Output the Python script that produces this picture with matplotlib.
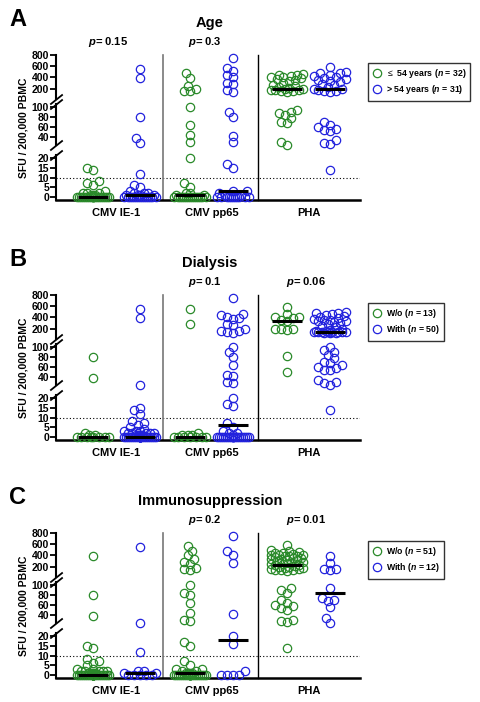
import numpy as np
import matplotlib
matplotlib.use("Agg")
import matplotlib.pyplot as plt

# ---------------- data ----------------
groups = ["CMV IE-1", "CMV pp65", "PHA"]
titles = ["Age", "Dialysis", "Immunosuppression"]
letters = ["A", "B", "C"]
legend_a = [r"$\leq$ 54 years ($\mathbfit{n}$ = 32)", r"> 54 years ($\mathbfit{n}$ = 31)"]
legend_b = [r"W/o ($\mathbfit{n}$ = 13)", r"With ($\mathbfit{n}$ = 50)"]
legend_c = [r"W/o ($\mathbfit{n}$ = 51)", r"With ($\mathbfit{n}$ = 12)"]
pvals_a = {0: "0.15", 1: "0.3"}
pvals_b = {1: "0.1", 2: "0.06"}
pvals_c = {1: "0.2", 2: "0.01"}

a_ie1_g = [15,14,8,7,6,3,2,2,2,1,1,1] + [0]*20
a_ie1_b = [550,380,80,38,28,12,6,5,3,2,2,2,1,1,1,1] + [0]*15
a_pp65_g = [470,380,250,200,160,150,100,65,45,30,20,7,5,2,2,1,1] + [0]*15
a_pp65_b = [750,560,520,450,400,300,280,170,140,90,80,42,30,17,15,3,3,2,1,1] + [0]*11
a_pha_g = [460,450,440,420,400,400,380,370,360,340,300,260,250,220,210,200,190,180,180,170,
           160,150,140,95,90,88,85,78,70,68,30,25]
a_pha_b = [580,500,480,470,450,420,400,380,370,360,340,320,280,260,220,200,190,180,160,150,
           140,70,65,60,57,55,52,35,28,27,14]

b_ie1_g = [80,38,2,1,1] + [0]*8
b_ie1_b = [550,380,25,15,14,12,8,7,6,5,4,3,3,3,2,2,2,2,2,1,1,1,1] + [0]*27
b_pp65_g = [550,280,2,1,1,1] + [0]*7
b_pp65_b = [750,460,450,400,380,370,280,260,200,160,150,140,120,100,90,80,65,45,42,30,
            28,20,17,16,7,5,3,2,2,1] + [0]*20
b_pha_g = [580,460,400,400,380,350,330,200,200,190,180,82,50]
b_pha_b = [500,480,470,460,450,420,400,380,370,360,350,340,330,320,300,280,250,220,200,180,
           160,150,140,140,140,140,140,130,130,130,120,120,120,100,95,90,85,78,70,68,
           65,60,58,55,55,35,30,28,25,14]

c_ie1_g = [380,80,38,15,14,8,7,6,5,3,3,2,2,2,2,2,1,1,1,1] + [0]*31
c_ie1_b = [550,25,12,2,2,1,1,0,0,0,0,0]
c_pp65_g = [560,480,400,340,280,250,170,150,140,100,85,80,65,45,30,28,17,15,7,5,3,3,2,2,
            1,1,1,1] + [0]*23
c_pp65_b = [750,470,400,270,42,20,16,2,0,0,0,0]
c_pha_g = [580,500,480,460,450,440,420,410,400,400,390,380,380,370,360,350,340,330,320,310,
           300,280,260,250,240,230,220,210,200,190,180,170,160,150,140,140,130,120,95,90,
           85,70,65,60,58,55,50,30,28,27,14]
c_pha_b = [380,260,160,150,140,95,75,70,68,57,34,24]

panels = [
    ([(a_ie1_g, a_ie1_b), (a_pp65_g, a_pp65_b), (a_pha_g, a_pha_b)], legend_a, pvals_a),
    ([(b_ie1_g, b_ie1_b), (b_pp65_g, b_pp65_b), (b_pha_g, b_pha_b)], legend_b, pvals_b),
    ([(c_ie1_g, c_ie1_b), (c_pp65_g, c_pp65_b), (c_pha_g, c_pha_b)], legend_c, pvals_c),
]

GREEN = "#2a8a2a"
BLUE = "#2222dd"

plt.rcParams["font.family"] = ["Liberation Sans", "DejaVu Sans"]
plt.rcParams["mathtext.fontset"] = "custom"
plt.rcParams["mathtext.bfit"] = "Liberation Sans:bold:italic"
plt.rcParams["mathtext.rm"] = "Liberation Sans"

# broken-axis piecewise scale
kv = np.array([-10, 0, 20, 22, 100, 120, 800], float)
kp = np.array([-19.5, 0, 39, 51, 90, 104, 142], float)
fwd = lambda v: np.interp(v, kv, kp)
inv = lambda p: np.interp(p, kp, kv)

W, H = 481, 702
fig = plt.figure(figsize=(W/100, H/100), dpi=100)

zero_px = [197, 437, 675]
centers = [37, 84, 134, 177, 231, 274]
yticks = [0, 5, 10, 15, 20, 40, 60, 80, 100, 200, 400, 600, 800]


def swarm(vals, cx):
    order = np.argsort(vals)
    ys = fwd(np.array(vals, float))
    placed = []
    xs = np.zeros(len(vals))
    cands = sorted(np.arange(-16, 16.01, 2.0), key=abs)
    for i in order:
        y = ys[i]
        best, bestd = None, -1
        for o in cands:
            d = min([np.hypot(o - px, y - py) for px, py in placed] + [99])
            if d >= 5.8:
                best = o
                break
            if d > bestd:
                bestd, best = d, o
        placed.append((best, y))
        xs[i] = cx + best
    return xs


for k, (data, leg, pv) in enumerate(panels):
    z = zero_px[k]
    bottom_px = z + 3
    ax = fig.add_axes([56/W, 1 - bottom_px/H, 304/W, 145/H])
    ax.set_yscale("function", functions=(fwd, inv))
    ax.set_ylim(-1.5, 800)
    ax.set_xlim(0, 304)
    for s in ["top", "right", "left"]:
        ax.spines[s].set_visible(False)
    ax.spines["bottom"].set_linewidth(1.8)
    ax.set_yticks(yticks)
    ax.set_yticklabels([str(t) for t in yticks], fontweight="bold", fontsize=7.5)
    ax.tick_params(axis="y", length=4, width=1.3, pad=1)
    ax.set_xticks([(centers[2*i] + centers[2*i+1]) / 2 for i in range(3)])
    ax.set_xticklabels(groups, fontweight="bold", fontsize=8)
    ax.tick_params(axis="x", length=0, pad=6)
    ax.set_ylabel("SFU / 200,000 PBMC", fontweight="bold", fontsize=7.5, labelpad=2)

    # spine segments with break marks
    for lo, hi in [(-1.5, 20.5), (24, 104), (112, 800)]:
        ax.plot([0, 0], [lo, hi], color="black", lw=1.5, clip_on=False, zorder=5)
    for yb in [20.5, 24, 104, 112]:
        ax.plot([0], [yb], marker=[(-1, -0.8), (1, 0.8)], ms=9, mew=1.3, color="black",
                clip_on=False, zorder=6)

    ax.axhline(10, color="black", ls=(0, (1, 2)), lw=0.8, zorder=1)
    ax.plot([107, 107], [-1.5, 800], color="#777777", lw=1.2, clip_on=False)
    ax.plot([202, 202], [-1.5, 800], color="black", lw=1.0, clip_on=False)

    for gi, (g, b) in enumerate(data):
        for vals, col, cx, lab in [(g, GREEN, centers[2*gi], leg[0]), (b, BLUE, centers[2*gi+1], leg[1])]:
            xs = swarm(vals, cx)
            ax.plot(xs, vals, ls="none", marker="o", ms=6, mfc="none", mec=col, mew=0.9,
                    clip_on=False, zorder=3, label=lab if gi == 0 else None)
            med = np.median(vals)
            ax.plot([cx - 15, cx + 15], [med, med], color="black", lw=2.2, zorder=4,
                    solid_capstyle="butt")

    for gi, txt in pv.items():
        x = (centers[2*gi] + centers[2*gi+1]) / 2 + (-8 if gi == 0 else (-7 if gi == 1 else -3))
        ax.text(x, 1.04, r"$\mathbfit{p}$= " + txt, transform=ax.get_xaxis_transform(),
                ha="center", va="bottom", fontweight="bold", fontsize=8)

    fig.text(210/W, 1 - (z - 174)/H, titles[k], ha="center", va="center", fontweight="bold", fontsize=10.5)
    fig.text(9/W, 1 - (z - 177)/H, letters[k], ha="left", va="center", fontweight="bold", fontsize=17)

    lg = ax.legend(loc="upper left", bbox_to_anchor=(368/W, 1 - (z - 134)/H),
                   bbox_transform=fig.transFigure, frameon=True, fancybox=False,
                   prop={"weight": "bold", "size": 6.3}, handletextpad=0.5, borderpad=0.5,
                   handlelength=1.0, labelspacing=0.35, borderaxespad=0)
    lg.get_frame().set_edgecolor("black")
    lg.get_frame().set_linewidth(1.0)

fig.savefig("out.png", dpi=100)
